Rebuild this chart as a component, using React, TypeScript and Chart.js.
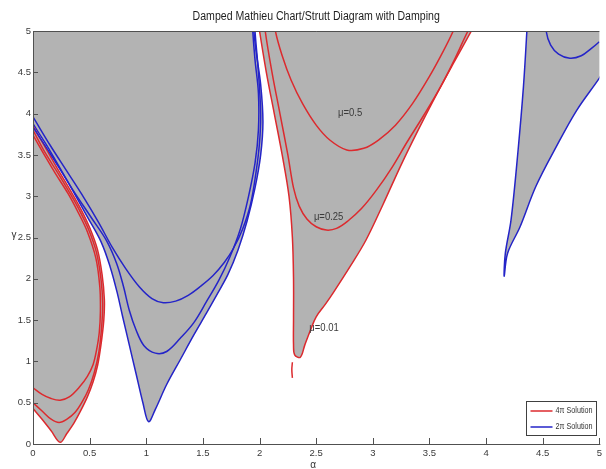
import React, { useEffect, useRef } from 'react';
import { Chart, registerables } from 'chart.js';

Chart.register(...registerables);

type P = [number, number];

// ---- data (alpha, gamma) ----
const alphaTicks = [0, 0.5, 1, 1.5, 2, 2.5, 3, 3.5, 4, 4.5, 5];
const gammaTicks = [0, 0.5, 1, 1.5, 2, 2.5, 3, 3.5, 4, 4.5, 5];

// 4π solution, first tongue (alpha ≈ 0.25)
const red4piT1Mu001: P[] = [
  [0, 0.43], [0.08, 0.3], [0.16, 0.16], [0.24, 0.02], [0.3, 0.13], [0.36, 0.25], [0.42, 0.4],
  [0.48, 0.57], [0.53, 0.75], [0.57, 0.95], [0.6, 1.2], [0.625, 1.5], [0.63, 1.75], [0.61, 2.05],
  [0.57, 2.35], [0.5, 2.62], [0.42, 2.85], [0.33, 3.07], [0.23, 3.3], [0.13, 3.54], [0, 3.85],
];
const red4piT1Mu025: P[] = [
  [0, 0.5], [0.08, 0.4], [0.16, 0.3], [0.23, 0.26], [0.3, 0.3], [0.37, 0.38], [0.43, 0.5],
  [0.49, 0.66], [0.54, 0.86], [0.58, 1.1], [0.605, 1.4], [0.615, 1.7], [0.6, 2.0], [0.56, 2.32],
  [0.49, 2.6], [0.41, 2.83], [0.32, 3.05], [0.22, 3.28], [0.11, 3.52], [0, 3.8],
];
const red4piT1Mu05: P[] = [
  [0, 0.68], [0.08, 0.6], [0.16, 0.55], [0.24, 0.53], [0.32, 0.57], [0.41, 0.69], [0.48, 0.82],
  [0.53, 0.96], [0.56, 1.13], [0.585, 1.35], [0.595, 1.6], [0.59, 1.9], [0.555, 2.25], [0.48, 2.57],
  [0.4, 2.8], [0.31, 3.03], [0.2, 3.27], [0.1, 3.5], [0, 3.74],
];

// 2π solution, second tongue (alpha ≈ 1)
const blue2piT2Mu001: P[] = [
  [-0.6, 5.3], [-0.3, 4.6], [0, 3.88], [0.15, 3.55], [0.33, 3.12], [0.48, 2.75], [0.6, 2.45],
  [0.68, 2.15], [0.74, 1.85], [0.79, 1.55], [0.85, 1.2], [0.91, 0.85], [0.97, 0.5], [1.02, 0.27],
  [1.08, 0.42], [1.18, 0.72], [1.3, 1.02], [1.42, 1.32], [1.53, 1.58], [1.62, 1.8], [1.72, 2.05],
  [1.81, 2.35], [1.89, 2.7], [1.96, 3.1], [2.01, 3.5], [2.03, 3.9], [2.01, 4.35], [1.97, 4.75],
  [1.95, 5.0], [1.94, 5.3],
];
const blue2piT2Mu025: P[] = [
  [-0.1, 4.07], [0, 3.84], [0.15, 3.52], [0.35, 3.08], [0.52, 2.73], [0.65, 2.46], [0.74, 2.18],
  [0.8, 1.9], [0.85, 1.62], [0.91, 1.38], [0.98, 1.19], [1.08, 1.1], [1.18, 1.12], [1.3, 1.28],
  [1.42, 1.47], [1.53, 1.72], [1.64, 1.98], [1.74, 2.27], [1.83, 2.6], [1.9, 2.98], [1.96, 3.4],
  [1.99, 3.8], [1.99, 4.25], [1.96, 4.65], [1.94, 5.0], [1.93, 5.3],
];
const blue2piT2Mu05: P[] = [
  [-0.1, 4.18], [0, 3.96], [0.15, 3.62], [0.3, 3.3], [0.45, 2.98], [0.58, 2.68], [0.7, 2.38],
  [0.82, 2.12], [0.94, 1.9], [1.05, 1.76], [1.15, 1.71], [1.26, 1.73], [1.37, 1.8], [1.48, 1.91],
  [1.59, 2.04], [1.69, 2.2], [1.77, 2.37], [1.85, 2.6], [1.92, 2.9], [1.97, 3.3], [2.0, 3.65],
  [2.01, 4.0], [1.99, 4.5], [1.96, 5.0], [1.95, 5.3],
];

// 4π solution, third tongue (alpha ≈ 2.25)
const red4piT3Mu001: P[] = [
  [1.97, 5.3], [2.0, 5.0], [2.06, 4.5], [2.13, 4.0], [2.2, 3.5], [2.26, 3.0], [2.29, 2.5],
  [2.3, 2.0], [2.3, 1.5], [2.3, 1.2], [2.31, 1.08], [2.36, 1.05], [2.4, 1.2], [2.45, 1.38],
  [2.5, 1.54], [2.58, 1.69], [2.65, 1.83], [2.8, 2.15], [2.94, 2.47], [3.09, 2.9], [3.25, 3.38],
  [3.4, 3.8], [3.55, 4.2], [3.7, 4.58], [3.87, 5.0], [3.99, 5.3],
];
const red4piT3Mu025: P[] = [
  [2.03, 5.3], [2.05, 5.0], [2.11, 4.5], [2.18, 4.0], [2.25, 3.5], [2.3, 3.1], [2.35, 2.88],
  [2.42, 2.72], [2.5, 2.63], [2.59, 2.59], [2.68, 2.61], [2.78, 2.7], [2.9, 2.85], [3.03, 3.07],
  [3.17, 3.35], [3.3, 3.65], [3.45, 3.98], [3.6, 4.33], [3.72, 4.65], [3.84, 5.0], [3.96, 5.3],
];
const red4piT3Mu05: P[] = [
  [2.11, 5.3], [2.14, 5.0], [2.2, 4.7], [2.28, 4.4], [2.38, 4.12], [2.5, 3.86], [2.62, 3.68],
  [2.77, 3.56], [2.92, 3.58], [3.05, 3.68], [3.2, 3.86], [3.35, 4.12], [3.5, 4.45], [3.62, 4.75],
  [3.71, 5.0], [3.8, 5.3],
];
const red4piT3Fragment: P[] = [[2.29, 0.99], [2.285, 0.9], [2.29, 0.8]];

// 2π solution, fourth tongue (alpha ≈ 4)
const blue2piT4Mu001: P[] = [
  [4.37, 5.3], [4.36, 5.0], [4.33, 4.33], [4.28, 3.52], [4.22, 2.71], [4.17, 2.31], [4.16, 2.03],
  [4.19, 2.31], [4.3, 2.63], [4.44, 3.12], [4.62, 3.6], [4.8, 4.04], [5.0, 4.43], [5.15, 4.75],
  [5.3, 5.3],
];
const blue2piT4Mu025: P[] = [
  [4.52, 5.3], [4.53, 5.0], [4.57, 4.83], [4.64, 4.72], [4.74, 4.67], [4.84, 4.7], [4.93, 4.79],
  [5.0, 4.87], [5.1, 5.0],
];

const muLabels = ['\u03bc=0.5', '\u03bc=0.25', '\u03bc=0.01'];
const muLabelAlpha = [2.8, 2.61, 2.57];
const muLabelGamma = [4.0, 2.75, 1.4];
const legendLabels = ['4\u03c0 Solution', '2\u03c0 Solution'];
const titleText = 'Damped Mathieu Chart/Strutt Diagram with Damping';
const xTitle = '\u03b1';
const yTitle = '\u03b3';

// ---- styles ----
const RED = '#dc2a2e';
const BLUE = '#2424c8';
const GRAY = '#b3b3b3';
const FONT = '"Liberation Sans", Arial, sans-serif';

const toXY = (arr: P[]) => arr.map(([x, y]) => ({ x, y }));

function curve(label: string, data: P[], color: string, fillShape: boolean) {
  return {
    label,
    data: toXY(data),
    borderColor: color,
    backgroundColor: GRAY,
    borderWidth: 1.5,
    pointRadius: 0,
    tension: 0.35,
    fill: fillShape ? 'shape' : false,
  };
}

function narrowText(ctx: any, text: string, x: number, y: number, sx: number) {
  ctx.save();
  ctx.translate(x, y);
  ctx.scale(sx, 1);
  ctx.fillText(text, 0, 0);
  ctx.restore();
}

const overlay = {
  id: 'overlay',
  afterDatasetsDraw(chart: any) {
    const { ctx, chartArea: a, scales } = chart;
    const xs = scales.x;
    const ys = scales.y;
    ctx.save();
    // axes box (left, bottom, top)
    ctx.strokeStyle = '#505050';
    ctx.lineWidth = 1;
    ctx.beginPath();
    ctx.moveTo(a.left + 0.5, a.top);
    ctx.lineTo(a.left + 0.5, a.bottom + 0.5);
    ctx.lineTo(a.right + 1, a.bottom + 0.5);
    ctx.moveTo(a.left, a.top + 0.5);
    ctx.lineTo(a.right, a.top + 0.5);
    alphaTicks.forEach((v) => {
      const px = Math.round(xs.getPixelForValue(v)) + 0.5;
      ctx.moveTo(px, a.bottom);
      ctx.lineTo(px, a.bottom - 6);
    });
    gammaTicks.forEach((v) => {
      const py = Math.round(ys.getPixelForValue(v)) + 0.5;
      ctx.moveTo(a.left, py);
      ctx.lineTo(a.left + 5, py);
    });
    ctx.stroke();

    // mu labels
    ctx.fillStyle = '#3a3a3a';
    ctx.font = `10px ${FONT}`;
    ctx.textAlign = 'center';
    ctx.textBaseline = 'middle';
    muLabels.forEach((t, i) => {
      narrowText(ctx, t, xs.getPixelForValue(muLabelAlpha[i]), ys.getPixelForValue(muLabelGamma[i]), 0.95);
    });

    // legend
    const lx = 526.5, ly = 401.5, lw = 70, lh = 34;
    ctx.fillStyle = '#ffffff';
    ctx.fillRect(lx, ly, lw, lh);
    ctx.strokeStyle = '#404040';
    ctx.lineWidth = 1;
    ctx.strokeRect(lx, ly, lw, lh);
    const colors = [RED, BLUE];
    ctx.font = `9px ${FONT}`;
    ctx.textAlign = 'left';
    legendLabels.forEach((t, i) => {
      const yy = ly + 9.5 + i * 16;
      ctx.strokeStyle = colors[i];
      ctx.lineWidth = 1.5;
      ctx.beginPath();
      ctx.moveTo(lx + 4, yy);
      ctx.lineTo(lx + 26, yy);
      ctx.stroke();
      ctx.fillStyle = '#333';
      narrowText(ctx, t, lx + 29, yy, 0.8);
    });

    // titles
    ctx.fillStyle = '#1e1e1e';
    ctx.font = `12.5px ${FONT}`;
    ctx.textAlign = 'center';
    narrowText(ctx, titleText, (a.left + a.right) / 2, 17, 0.845);
    ctx.fillStyle = '#333';
    ctx.font = `10px ${FONT}`;
    ctx.fillText(xTitle, (a.left + a.right) / 2 - 3, 465);
    ctx.fillText(yTitle, 14, 235);
    ctx.restore();
  },
};

export default function App() {
  const ref = useRef<HTMLCanvasElement>(null);
  useEffect(() => {
    if (!ref.current) return;
    const tickCb = (v: any) => String(Number(v));
    const chart = new Chart(ref.current, {
      type: 'line',
      data: {
        datasets: [
          curve('2\u03c0 \u03bc=0.5', blue2piT2Mu05, BLUE, false),
          curve('2\u03c0 \u03bc=0.25', blue2piT2Mu025, BLUE, false),
          curve('2\u03c0 tongue 4 \u03bc=0.25', blue2piT4Mu025, BLUE, false),
          curve('4\u03c0 \u03bc=0.5', red4piT1Mu05, RED, false),
          curve('4\u03c0 \u03bc=0.25', red4piT1Mu025, RED, false),
          curve('4\u03c0 tongue 3 \u03bc=0.5', red4piT3Mu05, RED, false),
          curve('4\u03c0 tongue 3 \u03bc=0.25', red4piT3Mu025, RED, false),
          curve('4\u03c0 fragment', red4piT3Fragment, RED, false),
          curve('4\u03c0 \u03bc=0.01', red4piT1Mu001, RED, true),
          curve('4\u03c0 tongue 3 \u03bc=0.01', red4piT3Mu001, RED, true),
          curve('2\u03c0 \u03bc=0.01', blue2piT2Mu001, BLUE, true),
          curve('2\u03c0 tongue 4 \u03bc=0.01', blue2piT4Mu001, BLUE, true),
        ] as any,
      },
      options: {
        animation: false,
        responsive: true,
        maintainAspectRatio: false,
        layout: { padding: { left: 0, right: 6, top: 31, bottom: 0 } },
        plugins: {
          legend: { display: false },
          title: { display: false },
          tooltip: { enabled: false },
          filler: { drawTime: 'beforeDatasetsDraw' },
        } as any,
        scales: {
          x: {
            type: 'linear',
            min: 0,
            max: 5,
            grid: { display: false, drawTicks: false },
            border: { display: false },
            afterBuildTicks: (s: any) => {
              s.ticks = alphaTicks.map((v) => ({ value: v }));
            },
            afterFit: (s: any) => {
              s.height = 25;
            },
            ticks: {
              padding: 4,
              color: '#3a3a3a',
              font: { family: FONT, size: 9.5 },
              maxRotation: 0,
              autoSkip: false,
              callback: tickCb,
            },
          },
          y: {
            type: 'linear',
            min: 0,
            max: 5,
            grid: { display: false, drawTicks: false },
            border: { display: false },
            afterBuildTicks: (s: any) => {
              s.ticks = gammaTicks.map((v) => ({ value: v }));
            },
            afterFit: (s: any) => {
              s.width = 33;
            },
            ticks: {
              padding: 2,
              color: '#3a3a3a',
              font: { family: FONT, size: 9.5 },
              autoSkip: false,
              callback: tickCb,
            },
          },
        },
      },
      plugins: [overlay],
    });
    return () => chart.destroy();
  }, []);
  return (
    <div style={{ position: 'absolute', left: 0, top: 0, width: 606, height: 469 }}>
      <canvas ref={ref} />
    </div>
  );
}
